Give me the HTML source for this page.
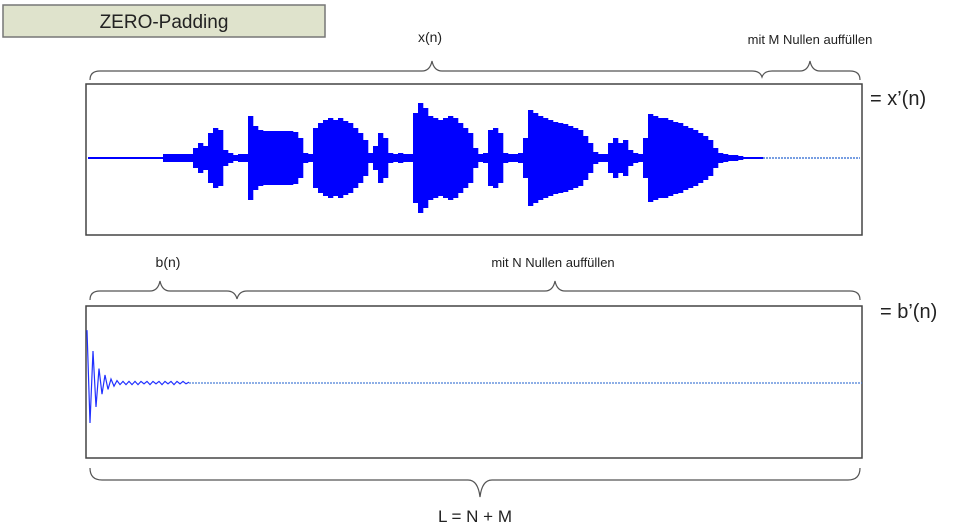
<!DOCTYPE html>
<html><head><meta charset="utf-8"><style>
body{margin:0;background:#fff;}
svg{display:block;font-family:"Liberation Sans",sans-serif;}
</style></head><body>
<svg width="959" height="528" viewBox="0 0 959 528">
<rect x="3" y="5" width="322" height="32" fill="#dfe3cc" stroke="#777" stroke-width="1.5"/>
<text x="164" y="28" font-size="19" text-anchor="middle" fill="#222">ZERO-Padding</text>

<g fill="none" stroke="#555" stroke-width="1.2">
<path d="M90 80 Q90 71 100 71 L422 71 Q430 71 432 61 Q434 71 442 71 L752 71 Q760 71 762 77 Q764 71 772 71 L800 71 Q808 71 810 61 Q812 71 820 71 L850 71 Q860 71 860 80"/>
<path d="M90 300 Q90 291 100 291 L150 291 Q158 291 160 281 Q162 291 170 291 L227 291 Q235 291 237 299 Q239 291 247 291 L545 291 Q553 291 555 281 Q557 291 565 291 L850 291 Q860 291 860 300"/>
<path d="M90 468 Q90 480 102 480 L468 480 Q478 480 480 497 Q482 480 492 480 L848 480 Q860 480 860 468"/>
</g>
<text x="430" y="42" font-size="14" text-anchor="middle" fill="#222">x(n)</text>
<text x="810" y="44" font-size="13" text-anchor="middle" fill="#222">mit M Nullen auffüllen</text>
<text x="870" y="105" font-size="20" fill="#222">= x’(n)</text>
<text x="168" y="267" font-size="14" text-anchor="middle" fill="#222">b(n)</text>
<text x="553" y="267" font-size="13" text-anchor="middle" fill="#222">mit N Nullen auffüllen</text>
<text x="880" y="318" font-size="20" fill="#222">= b’(n)</text>
<text x="475" y="522" font-size="17" text-anchor="middle" fill="#222">L = N + M</text>

<rect x="86" y="84" width="776" height="151" fill="#fff" stroke="#444" stroke-width="1.5"/>
<rect x="86" y="306" width="776" height="152" fill="#fff" stroke="#444" stroke-width="1.5"/>
<g id="sig"></g>
<g id="imp"></g>
</svg>
<script>
// envelope amplitude of x(n) per 5-sample block (starting at block 0)
const sigAmp=[1,1,1,1,1,1,1,1,1,1,1,1,1,1,1,
4,4,4,4,4,4,
10,15,12,25,30,28,8,5,3,4,4,
42,32,28,27,27,27,27,27,27,26,20,5,4,
30,35,38,40,38,40,37,35,30,25,18,5,12,25,20,5,4,5,4,4,
45,55,50,42,40,38,40,42,40,35,30,25,10,4,5,28,30,25,5,4,
4,5,20,48,45,42,40,38,36,35,34,32,30,28,22,15,6,4,4,
15,20,15,18,8,5,4,20,44,42,40,40,38,36,35,32,30,28,25,22,18,10,5,4,3,3,2,1,1,1,1];
// impulse response b(n)
const impVals=[66,-50,40,-30,18,-14,10,-8,5,-4,3,-2,2,-2,2,-2,2,-2,2,-1,2,-2,2,-1,2,-2,2,-1,2,-2,2,-1,2,-1,1];
const NS="http://www.w3.org/2000/svg";
const sigX=i=>88+i*5, sigC=158, ampY=a=>a;
const impX=i=>87+i*3, impC=383, impY=v=>v*0.8;
const sg=document.getElementById('sig');
sigAmp.forEach((a,i)=>{
  const r=document.createElementNS(NS,'rect');
  
  
  r.setAttribute('x',sigX(i));r.setAttribute('width',5.3);
  r.setAttribute('y',sigC-ampY(a));r.setAttribute('height',Math.max(2,2*ampY(a)));
  r.setAttribute('fill','#0000ff');sg.appendChild(r);
});
const endX=sigX(sigAmp.length);
const d1=document.createElementNS(NS,'line');


d1.setAttribute('x1',endX);d1.setAttribute('x2',860);d1.setAttribute('y1',sigC);d1.setAttribute('y2',sigC);
d1.setAttribute('stroke','#4a7fd8');d1.setAttribute('stroke-width','1.5');d1.setAttribute('stroke-dasharray','2 1');sg.appendChild(d1);
const ig=document.getElementById('imp');
const pts=impVals.map((v,i)=>impX(i)+','+(impC-impY(v))).join(' ');
const pl=document.createElementNS(NS,'polyline');


pl.setAttribute('points',pts);pl.setAttribute('fill','none');pl.setAttribute('stroke','#2030ff');pl.setAttribute('stroke-width','1.2');ig.appendChild(pl);
const iend=impX(impVals.length-1);
const d2=document.createElementNS(NS,'line');


d2.setAttribute('x1',iend);d2.setAttribute('x2',862);d2.setAttribute('y1',impC);d2.setAttribute('y2',impC);
d2.setAttribute('stroke','#4a7fd8');d2.setAttribute('stroke-width','1.2');d2.setAttribute('stroke-dasharray','2 1');ig.appendChild(d2);
</script>
</body></html>
